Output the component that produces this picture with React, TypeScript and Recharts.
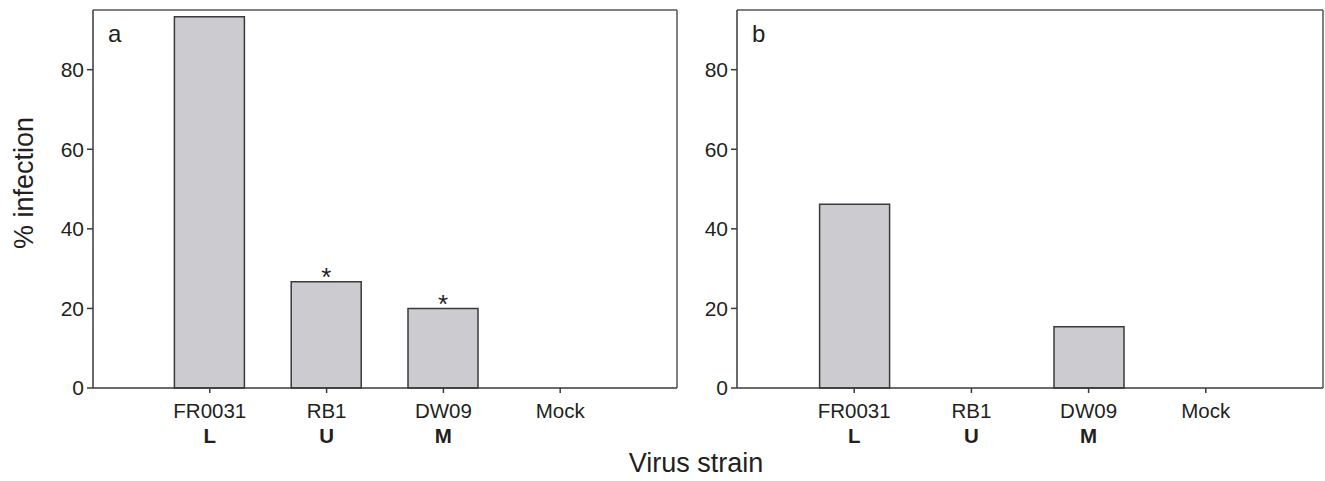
import React from 'react';
import { BarChart, Bar, XAxis, YAxis, LabelList } from 'recharts';

// strains on the x axis, with the lineage letter printed under each one
const strains = ['FR0031', 'RB1', 'DW09', 'Mock'];
const lineages = ['L', 'U', 'M', ''];

// % of plants infected
const infectionA = [93.3, 26.7, 20, 0];
const infectionB = [46.2, 0, 15.4, 0];

// significance marks drawn over the bars
const significanceA = ['', '*', '*', ''];
const significanceB = ['', '', '', ''];

const yTicks = [0, 20, 40, 60, 80];
const yDomain = [0, 95];

const FONT = '"Liberation Sans", Arial, Helvetica, sans-serif';
const INK = '#231f20';
const AXIS = '#3a3a3a';
const FRAME = '#555555';
const BAR_FILL = '#cccbd0';

const H = 481;
const PLOT_TOP = 10;
const PLOT_BOTTOM = 388;
const XAXIS_H = 60;

const buildRows = (values: number[], sig: string[]) =>
  strains.map((name, i) => ({ name, lineage: lineages[i], value: values[i], sig: sig[i] }));

const StrainTick = (props: any) => {
  const { x, y, payload } = props;
  const i = strains.indexOf(payload.value);
  return (
    <g>
      <text x={x} y={y} dy={23} textAnchor="middle" fontSize={20.5} fill={INK} fontFamily={FONT}>
        {payload.value}
      </text>
      <text x={x} y={y} dy={48} textAnchor="middle" fontSize={20.5} fontWeight="bold" fill={INK} fontFamily={FONT}>
        {lineages[i]}
      </text>
    </g>
  );
};

interface PanelProps {
  left: number;
  width: number;
  axisWidth: number;
  rightMargin: number;
  values: number[];
  sig: string[];
}

const Panel: React.FC<PanelProps> = ({ left, width, axisWidth, rightMargin, values, sig }) => {
  const rows = buildRows(values, sig);
  const plotWidth = width - axisWidth - rightMargin;
  const pad = plotWidth / 10;
  return (
    <div style={{ position: 'absolute', left, top: 0 }}>
      <BarChart
        width={width}
        height={H}
        data={rows}
        // the top and right frame axes are 1px thick, so take that off the margins
        margin={{ top: PLOT_TOP - 1, right: rightMargin - 1, bottom: H - PLOT_BOTTOM - XAXIS_H, left: 0 }}
      >
        <XAxis
          dataKey="name"
          type="category"
          height={XAXIS_H}
          interval={0}
          padding={{ left: pad, right: pad }}
          tick={<StrainTick />}
          tickSize={5}
          tickLine={{ stroke: AXIS, strokeWidth: 1.5 }}
          axisLine={{ stroke: AXIS, strokeWidth: 1.5 }}
        />
        <XAxis
          xAxisId="top"
          orientation="top"
          dataKey="name"
          type="category"
          height={1}
          tick={false}
          tickLine={false}
          axisLine={{ stroke: FRAME, strokeWidth: 1.5 }}
        />
        <YAxis
          domain={yDomain}
          ticks={yTicks}
          width={axisWidth}
          tickSize={6}
          tickMargin={3}
          tick={{ fontSize: 21, fill: INK, fontFamily: FONT }}
          tickLine={{ stroke: AXIS, strokeWidth: 1.5 }}
          axisLine={{ stroke: AXIS, strokeWidth: 1.5 }}
        />
        <YAxis
          yAxisId="right"
          orientation="right"
          domain={yDomain}
          width={1}
          tick={false}
          tickLine={false}
          axisLine={{ stroke: FRAME, strokeWidth: 1.5 }}
        />
        <Bar dataKey="value" fill={BAR_FILL} stroke={AXIS} strokeWidth={1.5} barSize={70} isAnimationActive={false}>
          <LabelList dataKey="sig" position="top" offset={-4.5} fontSize={26} fill={INK} fontFamily={FONT} />
        </Bar>
      </BarChart>
    </div>
  );
};

export default function App() {
  return (
    <div style={{ position: 'absolute', left: 0, top: 0, width: 1325, height: H, background: '#fff' }}>
      <Panel left={0} width={680} axisWidth={93} rightMargin={3} values={infectionA} sig={significanceA} />
      <Panel left={680} width={645} axisWidth={57} rightMargin={2} values={infectionB} sig={significanceB} />
      <svg
        width={1325}
        height={H}
        style={{ position: 'absolute', left: 0, top: 0, pointerEvents: 'none' }}
        fontFamily={FONT}
        fill={INK}
      >
        <text x={108} y={42} fontSize={24}>a</text>
        <text x={752} y={42} fontSize={24}>b</text>
        <text x={33} y={183} fontSize={27} textAnchor="middle" transform="rotate(-90 33 183)">
          % infection
        </text>
        <text x={696} y={472} fontSize={27} textAnchor="middle">
          Virus strain
        </text>
      </svg>
    </div>
  );
}
